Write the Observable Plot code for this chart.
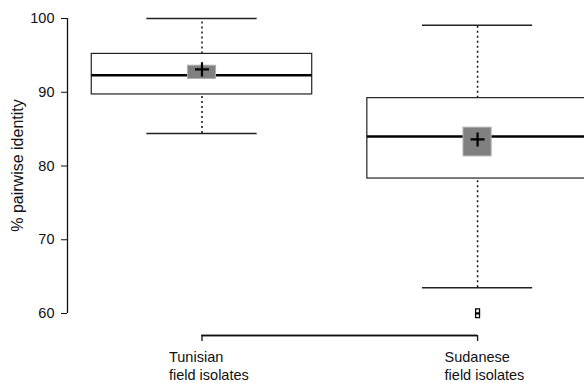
<!DOCTYPE html>
<html>
<head>
<meta charset="utf-8">
<script src="https://cdn.jsdelivr.net/npm/d3@7"></script>
<script src="https://cdn.jsdelivr.net/npm/@observablehq/plot@0.6"></script>
<style>
  html, body { margin: 0; padding: 0; background: #fff; }
  svg { font-family: "Liberation Sans", Arial, sans-serif; }
</style>
</head>
<body>
<div id="chart"></div>
<script>
// Data
const groups = ["Tunisian\nfield isolates", "Sudanese\nfield isolates"];
const whiskerLow  = [84.4, 63.5];
const q1          = [89.7, 78.3];
const median      = [92.3, 84.0];
const q3          = [95.2, 89.2];
const whiskerHigh = [100.0, 99.1];
const mean        = [93.1, 83.6];
const meanCILow   = [91.8, 81.3];
const meanCIHigh  = [93.6, 85.2];
const outlierGroup = [2, 2];
const outlierValue = [60.35, 59.7];
const yTicks = [60, 70, 80, 90, 100];
const yLabel = "% pairwise identity";

const rows = groups.map((g, i) => ({
  pos: i + 1, label: g,
  lo: whiskerLow[i], q1: q1[i], med: median[i], q3: q3[i], hi: whiskerHigh[i],
  mean: mean[i], ciLo: meanCILow[i], ciHi: meanCIHigh[i]
}));
const outliers = outlierValue.map((v, i) => ({pos: outlierGroup[i], v}));

const boxHalf = 0.4, capHalf = 0.2, ciHalf = 0.051;
const xDomain = [0.512, 2.388];
const yDomain = [60, 100];

const chart = Plot.plot({
  width: 584,
  height: 383,
  marginLeft: 67,
  marginRight: 0,
  marginTop: 18,
  marginBottom: 48,
  style: {fontFamily: "Liberation Sans, Arial, sans-serif", fontSize: "14px", background: "#fff", color: "#111"},
  x: {type: "linear", domain: xDomain},
  y: {domain: yDomain, insetBottom: 22},
  marks: [
    // y axis line
    Plot.ruleX([xDomain[0]], {y1: yDomain[0], y2: yDomain[1], stroke: "#111", strokeWidth: 1.3}),
    Plot.axisY({ticks: yTicks, tickSize: 6, tickPadding: 7, fontSize: 14.5, stroke: "#111", label: null}),
    Plot.text([yLabel], {frameAnchor: "left", textAnchor: "middle", rotate: -90, dx: -50, dy: -11.5, fontSize: 16, fill: "#111"}),
    // x axis bracket
    Plot.ruleY(rows, {y: () => yDomain[0], x1: () => rows[0].pos, x2: () => rows[rows.length - 1].pos, dy: 22, stroke: "#111", strokeWidth: 1.3}),
    Plot.axisX({ticks: rows.map(d => d.pos), tickFormat: () => "", tickSize: 6, stroke: "#111", strokeWidth: 1.3, label: null}),
    Plot.axisX({ticks: rows.map(d => d.pos), tickFormat: p => groups[p - 1], tickSize: 0, tickPadding: 14,
      textAnchor: "start", dx: -33, lineHeight: 1.22, fontSize: 14.5, label: null}),
    // whiskers (dotted)
    Plot.ruleX(rows, {x: "pos", y1: "q3", y2: "hi", stroke: "#111", strokeWidth: 1.5, strokeDasharray: "2,3"}),
    Plot.ruleX(rows, {x: "pos", y1: "lo", y2: "q1", stroke: "#111", strokeWidth: 1.5, strokeDasharray: "2,3"}),
    // caps
    Plot.ruleY(rows, {y: "hi", x1: d => d.pos - capHalf, x2: d => d.pos + capHalf, stroke: "#222", strokeWidth: 1.5}),
    Plot.ruleY(rows, {y: "lo", x1: d => d.pos - capHalf, x2: d => d.pos + capHalf, stroke: "#222", strokeWidth: 1.5}),
    // boxes
    Plot.rect(rows, {x1: d => d.pos - boxHalf, x2: d => d.pos + boxHalf, y1: "q1", y2: "q3", fill: "#fff", stroke: "#222", strokeWidth: 1.2}),
    // median
    Plot.ruleY(rows, {y: "med", x1: d => d.pos - boxHalf, x2: d => d.pos + boxHalf, stroke: "#000", strokeWidth: 2.5}),
    // mean CI square
    Plot.rect(rows, {x1: d => d.pos - ciHalf, x2: d => d.pos + ciHalf, y1: "ciLo", y2: "ciHi", fill: "#808080", stroke: "#b0b0b0", strokeWidth: 1}),
    // mean plus
    Plot.dot(rows, {x: "pos", y: "mean", symbol: "plus", r: 4.6, stroke: "#000", strokeWidth: 2.2}),
    // outliers
    Plot.dot(outliers, {x: "pos", y: "v", symbol: "square", r: 2.2, stroke: "#000", fill: "none", strokeWidth: 1.3})
  ]
});
document.getElementById("chart").appendChild(chart);
</script>
</body>
</html>
